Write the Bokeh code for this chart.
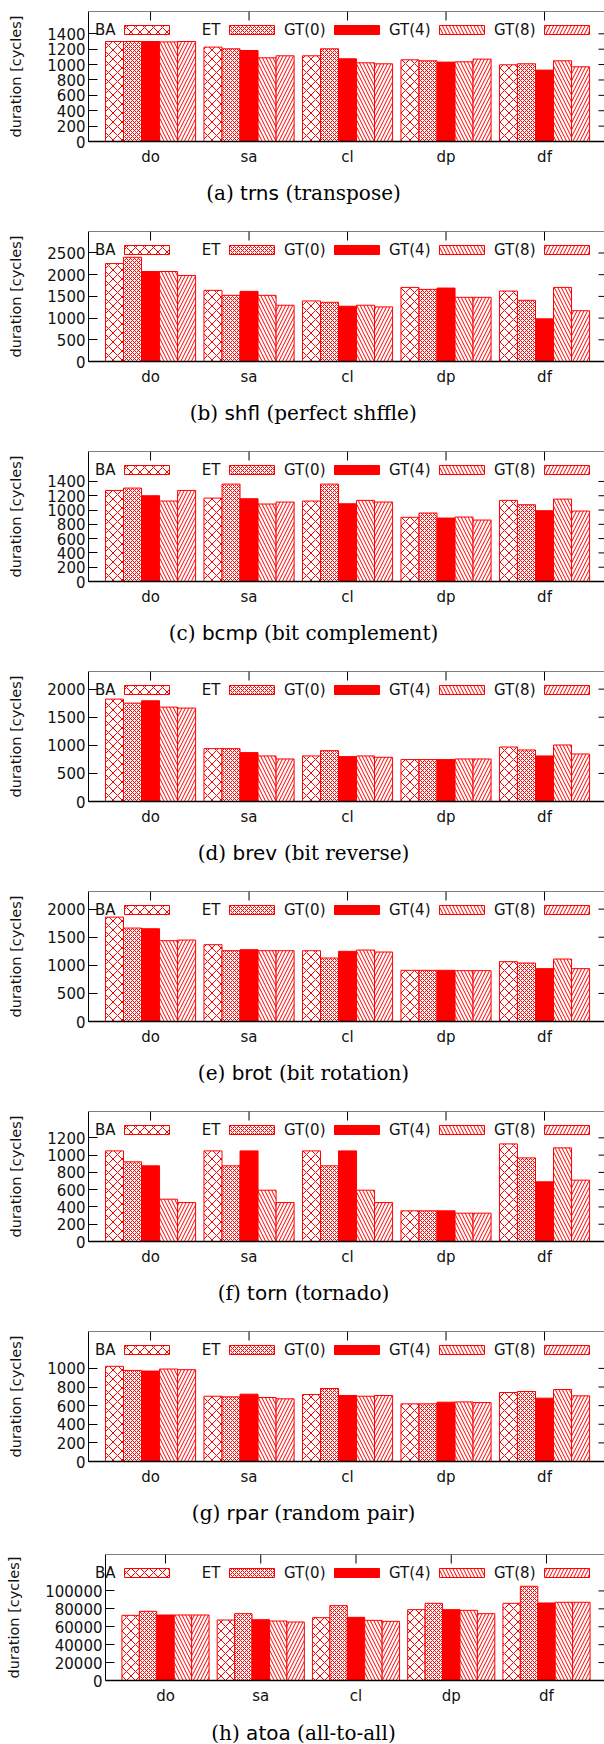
import math
from bokeh.plotting import figure
from bokeh.layouts import column
from bokeh.models import FixedTicker, Label, Span, BasicTickFormatter
from bokeh.core.properties import value
from bokeh.embed import file_html
from bokeh.resources import INLINE

GROUPS = ["do", "sa", "cl", "dp", "df"]
SERIES = ["BA", "ET", "GT(0)", "GT(4)", "GT(8)"]

# (a) trns
trns_ba = [1300, 1227, 1114, 1062, 997]
trns_et = [1300, 1205, 1205, 1049, 1010]
trns_g0 = [1300, 1183, 1075, 1032, 928]
trns_g4 = [1295, 1088, 1023, 1036, 1049]
trns_g8 = [1300, 1114, 1010, 1071, 971]
# (b) shfl
shfl_ba = [2256, 1639, 1395, 1707, 1623]
shfl_et = [2401, 1524, 1364, 1662, 1410]
shfl_g0 = [2073, 1616, 1273, 1692, 983]
shfl_g4 = [2073, 1524, 1296, 1479, 1707]
shfl_g8 = [1982, 1296, 1258, 1479, 1170]
# (c) bcmp
bcmp_ba = [1274, 1167, 1126, 898, 1135]
bcmp_et = [1307, 1363, 1363, 958, 1074]
bcmp_g0 = [1200, 1158, 1088, 888, 991]
bcmp_g4 = [1126, 1084, 1135, 902, 1153]
bcmp_g8 = [1274, 1112, 1112, 860, 986]
# (d) brev
brev_ba = [1822, 941, 811, 746, 970]
brev_et = [1751, 941, 905, 746, 917]
brev_g0 = [1793, 870, 799, 746, 811]
brev_g4 = [1680, 811, 811, 757, 1006]
brev_g8 = [1663, 757, 787, 757, 846]
# (e) brot
brot_ba = [1858, 1367, 1260, 911, 1065]
brot_et = [1663, 1260, 1130, 911, 1041]
brot_g0 = [1651, 1278, 1249, 911, 941]
brot_g4 = [1438, 1260, 1272, 905, 1112]
brot_g8 = [1450, 1260, 1237, 905, 941]
# (f) torn
torn_ba = [1049, 1049, 1049, 355, 1130]
torn_et = [922, 876, 876, 355, 968]
torn_g0 = [876, 1049, 1049, 355, 691]
torn_g4 = [490, 594, 594, 328, 1084]
torn_g8 = [451, 451, 451, 328, 710]
# (g) rpar
rpar_ba = [1022, 701, 719, 619, 741]
rpar_et = [978, 694, 784, 619, 752]
rpar_g0 = [971, 723, 709, 637, 680]
rpar_g4 = [993, 687, 701, 640, 773]
rpar_g8 = [986, 673, 709, 633, 705]
# (h) atoa
atoa_ba = [72760, 67540, 70150, 79100, 86190]
atoa_et = [77240, 74630, 83580, 86190, 105220]
atoa_g0 = [73130, 67910, 70520, 79100, 86570]
atoa_g4 = [73130, 66420, 67160, 78360, 87310]
atoa_g8 = [73130, 65300, 66040, 74630, 87310]

# panel: letter, short name, long name, series, y max, y ticks
PANELS = [
    ("a", "trns", "transpose", [trns_ba, trns_et, trns_g0, trns_g4, trns_g8], 1690, list(range(0, 1401, 200))),
    ("b", "shfl", "perfect shffle", [shfl_ba, shfl_et, shfl_g0, shfl_g4, shfl_g8], 2995, list(range(0, 2501, 500))),
    ("c", "bcmp", "bit complement", [bcmp_ba, bcmp_et, bcmp_g0, bcmp_g4, bcmp_g8], 1819, list(range(0, 1401, 200))),
    ("d", "brev", "bit reverse", [brev_ba, brev_et, brev_g0, brev_g4, brev_g8], 2314, list(range(0, 2001, 500))),
    ("e", "brot", "bit rotation", [brot_ba, brot_et, brot_g0, brot_g4, brot_g8], 2314, list(range(0, 2001, 500))),
    ("f", "torn", "tornado", [torn_ba, torn_et, torn_g0, torn_g4, torn_g8], 1505, list(range(0, 1201, 200))),
    ("g", "rpar", "random pair", [rpar_ba, rpar_et, rpar_g0, rpar_g4, rpar_g8], 1396, list(range(0, 1001, 200))),
    ("h", "atoa", "all-to-all", [atoa_ba, atoa_et, atoa_g0, atoa_g4, atoa_g8], 140672, list(range(0, 100001, 20000))),
]

STYLE = [
    dict(fill_color="white", hatch_pattern="diagonal_cross", hatch_scale=9),
    dict(fill_color="white", hatch_pattern="diagonal_cross", hatch_scale=4),
    dict(fill_color="red"),
    dict(fill_color="white", hatch_pattern="left_diagonal_line", hatch_scale=7),
    dict(fill_color="white", hatch_pattern="right_diagonal_line", hatch_scale=7),
]

W = 604
X0, X1 = -0.63, 4.609
BW = 0.183
SANS = "DejaVu Sans"
SERIF = "DejaVu Serif"
TICK_FS = 15
CAP_FS = 20
TXT = "#111111"

SERIF_W = {' ': .318, '(': .390, ')': .390, 'a': .596, 'b': .640, 'c': .560, 'd': .640,
           'e': .592, 'f': .370, 'g': .640, 'h': .644, 'i': .320, 'l': .320, 'm': .948,
           'n': .644, 'o': .602, 'p': .640, 'r': .478, 's': .513, 't': .402, 'u': .644,
           'v': .565, '-': .338, 'k': .611}
SANS_W = {'a': .613, 'b': .635, 'c': .550, 'd': .635, 'e': .615, 'f': .352, 'h': .634,
          'l': .278, 'm': .974, 'n': .634, 'o': .612, 'p': .635, 'r': .411, 's': .521,
          't': .392, 'v': .592}


def tw(s, table, fs):
    return sum(table.get(c, 0.6) for c in s) * fs


def build(letter, short, long_, vals, ymax, yticks, fl, top, fh, bottom, ylab_standoff):
    fw = W - fl
    upx = (X1 - X0) / fw
    upy = ymax / fh

    def px(xp):
        return X0 + (xp - fl) * upx

    p = figure(frame_width=fw, frame_height=fh, x_range=(X0, X1), y_range=(0, ymax),
               min_border_left=fl, min_border_right=0, min_border_top=top,
               min_border_bottom=bottom, title=None, tools="", frame_align=False,
               output_backend="svg", toolbar_location=None)
    p.outline_line_color = None
    p.xgrid.visible = False
    p.ygrid.visible = False
    p.background_fill_color = "white"
    p.border_fill_color = "white"

    for k in range(5):
        xs = [g + (k - 2) * BW for g in range(len(GROUPS))]
        p.vbar(x=xs, top=vals[k], bottom=0, width=BW, line_color="red", line_width=1,
               hatch_color="red", hatch_weight=1, **STYLE[k])

    xa = p.xaxis[0]
    xa.ticker = FixedTicker(ticks=list(range(len(GROUPS))))
    xa.major_label_overrides = {i: g for i, g in enumerate(GROUPS)}
    xa.major_tick_in = 0
    xa.major_tick_out = 0
    xa.minor_tick_line_color = None
    xa.axis_line_width = 1.5
    xa.axis_line_color = "black"
    xa.major_label_standoff = 6
    xa.major_label_text_font = SANS
    xa.major_label_text_font_size = f"{TICK_FS}px"
    xa.major_label_text_color = TXT

    ya = p.yaxis[0]
    ya.ticker = FixedTicker(ticks=yticks)
    ya.formatter = BasicTickFormatter(use_scientific=False)
    ya.major_tick_in = 9
    ya.major_tick_out = 0
    ya.minor_tick_line_color = None
    ya.axis_line_color = "black"
    ya.major_label_standoff = 3
    ya.major_label_text_font = SANS
    ya.major_label_text_font_size = f"{TICK_FS}px"
    ya.major_label_text_color = TXT
    ya.axis_label = "duration [cycles]"
    ya.axis_label_text_font = SANS
    ya.axis_label_text_font_style = "normal"
    ya.axis_label_text_font_size = "14.5px"
    ya.axis_label_text_color = TXT
    ya.axis_label_standoff = ylab_standoff

    # top border and mirrored ticks
    p.add_layout(Span(location=ymax, dimension="width", line_color="black", line_width=1))
    p.segment(x0=[X1 - 6 * upx] * len(yticks), x1=[X1] * len(yticks), y0=yticks, y1=yticks,
              line_color="black", line_width=1)
    p.segment(x0=list(range(len(GROUPS))), x1=list(range(len(GROUPS))),
              y0=[ymax] * len(GROUPS), y1=[ymax - 9 * upy] * len(GROUPS),
              line_color="black", line_width=1)

    # key row
    ky = ymax - 18.5 * upy
    for k, name in enumerate(SERIES):
        sx = 124 + 105 * k
        p.quad(left=px(sx), right=px(sx + 45), bottom=ky - 4.5 * upy, top=ky + 4.5 * upy,
               line_color="red", line_width=1, hatch_color="red", hatch_weight=1, **STYLE[k])
        lab = Label(x=px(sx - 9), y=ky, text=name, text_align="right",
                    text_baseline="middle", text_font=SANS,
                    text_font_size=f"{TICK_FS}px", text_color=TXT)
        if sx - 9 - 22 < fl:
            p.add_layout(lab, "above")
        else:
            p.add_layout(lab)
    return p


def caption(letter, short, long_, h, cy):
    c = figure(frame_width=W, frame_height=h, x_range=(0, W), y_range=(0, h),
               min_border=0, title=None, tools="", x_axis_type=None, y_axis_type=None,
               frame_align=False, output_backend="svg", toolbar_location=None)
    c.outline_line_color = None
    pre = f"({letter})"
    suf = f"({long_})"
    w_pre = tw(pre + " ", SERIF_W, CAP_FS)
    w_word = tw(short, SANS_W, CAP_FS)
    w_suf = tw(" " + suf, SERIF_W, CAP_FS)
    left = 303 - (w_pre + w_word + w_suf) / 2
    y = h - cy
    c.text(x=[left], y=[y], text=[pre], text_align="left", text_baseline="middle",
           text_font=value(SERIF), text_font_size=f"{CAP_FS}px", text_color="black")
    c.text(x=[left + w_pre], y=[y], text=[short], text_align="left", text_baseline="middle",
           text_font=value(SANS), text_font_size=f"{CAP_FS}px", text_color="black")
    c.text(x=[left + w_pre + w_word + tw(" ", SERIF_W, CAP_FS)], y=[y], text=[suf],
           text_align="left", text_baseline="middle",
           text_font=value(SERIF), text_font_size=f"{CAP_FS}px", text_color="black")
    return c


figs = []
for letter, short, long_, vals, ymax, yticks in PANELS:
    if letter == "h":
        figs.append(build(letter, short, long_, vals, ymax, yticks, 105, 14, 126, 36, 20))
        figs.append(caption(letter, short, long_, 28, 16))
    else:
        figs.append(build(letter, short, long_, vals, ymax, yticks, 88, 11, 130, 34, 20))
        figs.append(caption(letter, short, long_, 41 if letter == "g" else 45, 17))

layout = column(*figs, spacing=0)
open("out.html", "w").write(file_html(layout, INLINE, "durations"))
